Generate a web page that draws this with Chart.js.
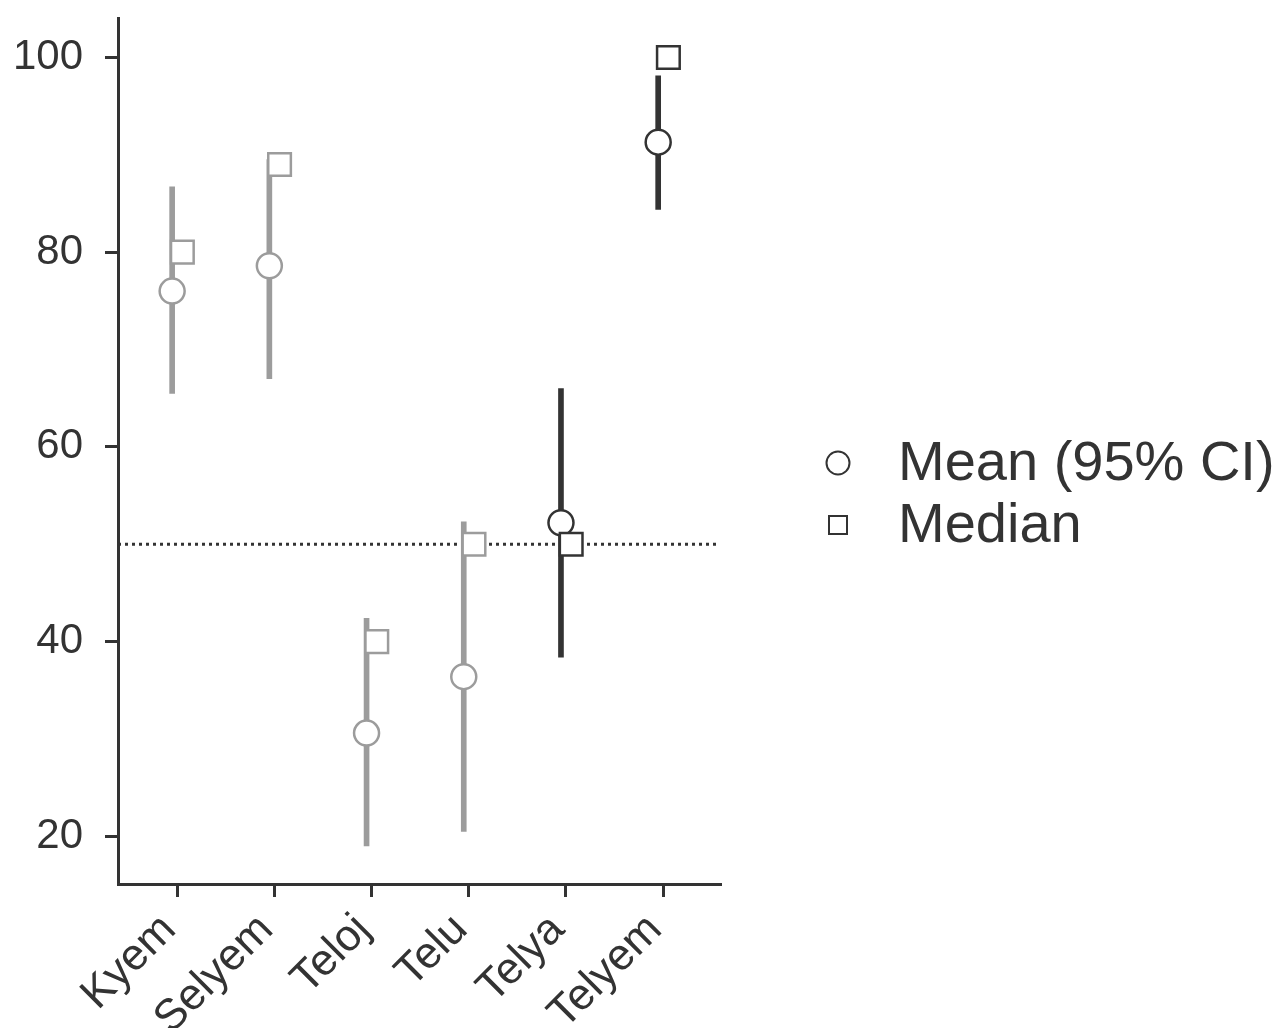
<!DOCTYPE html>
<html>
<head>
<meta charset="utf-8">
<script src="https://cdn.jsdelivr.net/npm/chart.js@4.4.1/dist/chart.umd.min.js"></script>
<style>
  html, body { margin: 0; padding: 0; background: #fff; }
  #wrap { width: 1286px; height: 1028px; }
</style>
</head>
<body>
<div id="wrap"><canvas id="chart" width="1286" height="1028"></canvas></div>
<script>
// values
const categories = ['Kyem', 'Selyem', 'Teloj', 'Telu', 'Telya', 'Telyem']
const meanValues = [76.0, 78.6, 30.6, 36.4, 52.2, 91.3]
const ciLower = [65.5, 67.0, 19.0, 20.5, 38.4, 84.4]
const ciUpper = [86.7, 89.5, 42.4, 52.3, 66.0, 98.1]
const medianValues = [80, 89, 40, 50, 50, 100]
const yTicks = [20, 40, 60, 80, 100]
const referenceLevel = 50

const GREY = '#9c9c9c'
const DARK = '#333333'
const colorFor = i => (i >= 4 ? DARK : GREY)
const xMin = -0.607, xMax = 5.586

const meanPoints = meanValues.map((v, i) => ({x: i - 0.05, y: v}))
const medianPoints = medianValues.map((v, i) => ({x: i + 0.055, y: v}))
const ciBars = categories.map((c, i) => ({x: i - 0.05, y: [ciLower[i], ciUpper[i]]}))

const legendPlugin = {
  id: 'sideLegend',
  afterDraw(chart) {
    const ctx = chart.ctx
    const items = chart.data.datasets
      .filter(d => d.legendStyle)
      .sort((a, b) => a.legendIndex - b.legendIndex)
    ctx.save()
    items.forEach((d, k) => {
      const y = 463 + k * 62
      ctx.strokeStyle = DARK
      ctx.fillStyle = '#fff'
      ctx.lineWidth = 2
      ctx.beginPath()
      if (d.legendStyle === 'circle') ctx.arc(838, y, 11.5, 0, Math.PI * 2)
      else ctx.rect(838 - 9, y - 9, 18, 18)
      ctx.fill()
      ctx.stroke()
      ctx.fillStyle = DARK
      ctx.font = '56px "Liberation Sans", Arial, sans-serif'
      ctx.textBaseline = 'middle'
      ctx.textAlign = 'left'
      ctx.fillText(d.label, 898, y + 2)
    })
    ctx.restore()
  }
}

const ctx = document.getElementById('chart').getContext('2d')
new Chart(ctx, {
  type: 'bar',
  data: {
    datasets: [
      {
        type: 'scatter',
        label: 'Median',
        legendStyle: 'rect',
        legendIndex: 1,
        data: medianPoints,
        pointStyle: 'rect',
        pointRadius: 16,
        pointHoverRadius: 16,
        pointBorderWidth: 2.5,
        pointBackgroundColor: '#fff',
        pointBorderColor: medianPoints.map((p, i) => colorFor(i)),
        order: 0
      },
      {
        type: 'scatter',
        label: 'Mean (95% CI)',
        legendStyle: 'circle',
        legendIndex: 0,
        data: meanPoints,
        pointStyle: 'circle',
        pointRadius: 12.5,
        pointHoverRadius: 12.5,
        pointBorderWidth: 2.5,
        pointBackgroundColor: '#fff',
        pointBorderColor: meanPoints.map((p, i) => colorFor(i)),
        order: 1
      },
      {
        type: 'bar',
        label: '95% CI',
        data: ciBars,
        barThickness: 5,
        backgroundColor: ciBars.map((b, i) => colorFor(i)),
        borderWidth: 0,
        order: 2
      },
      {
        type: 'line',
        label: 'reference',
        data: [{x: xMin, y: referenceLevel}, {x: xMax, y: referenceLevel}],
        borderColor: DARK,
        borderWidth: 3,
        borderDash: [3, 4],
        pointRadius: 0,
        order: 3
      }
    ]
  },
  options: {
    responsive: false,
    animation: false,
    layout: { padding: { top: 15, right: 566, left: 0, bottom: 0 } },
    plugins: {
      legend: { display: false },
      tooltip: { enabled: false }
    },
    scales: {
      x: {
        type: 'linear',
        min: xMin,
        max: xMax,
        offset: false,
        afterFit: s => { s.height = 144; s.paddingLeft = 0; s.paddingRight = 0 },
        afterBuildTicks: s => { s.ticks = categories.map((c, i) => ({value: i})) },
        grid: { drawOnChartArea: false, drawTicks: true, tickLength: 13, color: DARK, lineWidth: 3, offset: false },
        border: { display: true, color: DARK, width: 3 },
        ticks: {
          autoSkip: false,
          minRotation: 45,
          maxRotation: 45,
          padding: 7,
          labelOffset: -8,
          color: DARK,
          font: { family: '"Liberation Sans", Arial, sans-serif', size: 44 },
          callback: v => categories[v]
        }
      },
      y: {
        type: 'linear',
        min: 15.1,
        max: 104,
        afterFit: s => { s.width = 118; s.paddingTop = 0; s.paddingBottom = 0 },
        afterBuildTicks: s => { s.ticks = yTicks.map(v => ({value: v})) },
        grid: { drawOnChartArea: false, drawTicks: true, tickLength: 13, color: DARK, lineWidth: 3 },
        border: { display: true, color: DARK, width: 3 },
        ticks: {
          padding: 22,
          color: DARK,
          font: { family: '"Liberation Sans", Arial, sans-serif', size: 42 }
        }
      }
    }
  },
  plugins: [legendPlugin]
})
</script>
</body>
</html>
